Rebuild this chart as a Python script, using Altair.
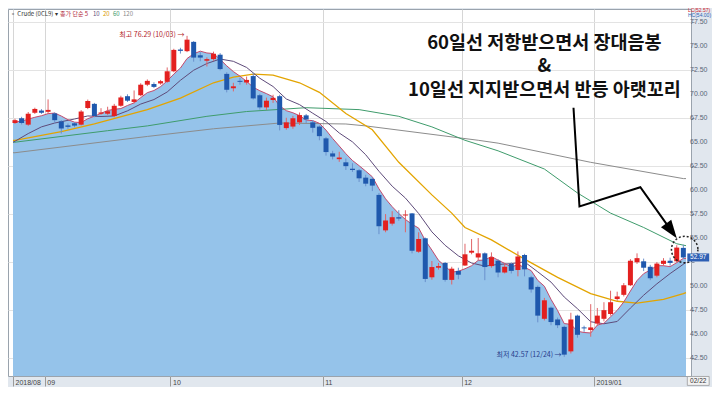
import altair as alt
import pandas as pd

# ---------------- candle data ----------------
opens = [67.00, 67.50, 66.83, 68.07, 68.30, 68.17, 68.00, 67.17, 66.75, 66.97,
         66.83, 68.57, 69.00, 67.97, 67.97, 67.73, 68.80, 69.80, 69.20, 69.90,
         71.00, 71.07, 71.13, 71.30, 72.40, 74.67, 74.50, 75.47, 74.07, 73.50,
         73.67, 74.13, 72.13, 70.63, 71.40, 71.23, 71.90, 69.90, 68.63, 69.40,
         69.80, 66.47, 66.63, 67.07, 67.80, 67.07, 66.63, 65.40, 63.83, 63.23,
         62.90, 62.23, 62.07, 61.30, 61.17, 59.50, 55.80, 56.50, 57.17, 57.35,
         57.57, 53.57, 54.97, 50.90, 51.90, 52.40, 50.63, 51.57, 52.13, 53.47,
         52.97, 53.40, 52.07, 52.63, 51.40, 52.30, 51.67, 53.23, 50.90, 49.90,
         46.57, 47.73, 46.50, 45.73, 43.17, 46.90, 45.67, 45.40, 46.07, 46.57,
         47.07, 48.63, 49.07, 50.07, 52.47, 52.57, 52.00, 51.07, 52.30, 52.63,
         52.57, 53.97]
closes = [67.30, 67.00, 67.97, 68.47, 68.07, 68.37, 67.30, 66.43, 66.60, 66.73,
          68.20, 69.30, 67.73, 68.10, 68.23, 68.80, 69.67, 69.33, 69.47, 71.00,
          71.40, 70.77, 71.37, 72.40, 74.63, 74.53, 75.70, 73.83, 73.83, 73.67,
          74.23, 72.63, 70.47, 70.83, 71.30, 71.50, 69.57, 68.63, 69.33, 69.63,
          66.80, 67.07, 67.50, 67.83, 67.37, 66.50, 65.63, 63.97, 63.50, 63.40,
          62.50, 62.10, 61.23, 60.67, 60.47, 56.23, 56.83, 57.17, 57.03, 57.45,
          53.67, 54.90, 50.73, 51.97, 52.07, 50.63, 51.80, 51.17, 53.30, 53.67,
          53.40, 51.97, 53.00, 51.40, 52.00, 51.57, 53.07, 51.73, 49.63, 46.90,
          48.50, 46.23, 45.90, 42.83, 46.50, 44.90, 45.57, 45.67, 46.90, 47.47,
          48.30, 48.90, 50.07, 52.63, 52.90, 51.90, 50.80, 52.33, 52.63, 52.40,
          54.00, 52.97]
highs = [67.45, 67.65, 68.15, 68.60, 68.45, 69.47, 68.10, 67.30, 66.95, 67.10,
         68.35, 69.45, 69.10, 68.55, 68.70, 69.00, 69.85, 70.00, 70.40, 71.15,
         71.55, 71.25, 71.50, 72.80, 74.75, 74.85, 76.10, 75.55, 74.40, 73.85,
         74.45, 74.30, 72.30, 71.20, 71.70, 71.85, 72.20, 70.05, 69.65, 69.95,
         69.95, 67.55, 67.75, 68.10, 67.95, 67.30, 66.75, 65.55, 64.10, 64.00,
         63.30, 62.80, 62.20, 61.60, 61.35, 59.70, 57.50, 57.80, 57.90, 57.90,
         57.60, 55.60, 55.05, 52.60, 52.40, 52.50, 52.00, 51.90, 54.40, 54.90,
         55.00, 53.50, 53.50, 52.80, 52.30, 52.45, 53.60, 53.35, 51.05, 50.05,
         48.75, 47.85, 46.70, 45.85, 47.20, 47.00, 45.85, 48.10, 47.70, 48.30,
         49.50, 49.40, 50.30, 52.80, 53.40, 52.85, 52.20, 52.50, 52.90, 52.95,
         54.25, 54.30]
lows = [66.90, 66.85, 66.70, 67.95, 67.95, 67.95, 67.05, 65.90, 66.40, 66.55,
        66.75, 68.45, 67.60, 67.85, 67.85, 67.60, 68.70, 69.20, 69.05, 69.80,
        70.85, 70.65, 71.00, 71.20, 72.30, 74.25, 74.40, 73.40, 73.45, 72.90,
        73.50, 72.50, 70.20, 70.30, 71.00, 71.00, 69.45, 68.40, 68.35, 69.10,
        66.23, 66.30, 66.40, 66.80, 67.00, 66.00, 65.20, 63.60, 63.20, 62.95,
        62.10, 61.90, 60.85, 60.40, 59.90, 55.40, 55.60, 56.30, 56.80, 55.60,
        53.40, 53.45, 50.40, 50.65, 51.70, 50.45, 50.15, 50.70, 52.10, 53.30,
        52.70, 50.60, 51.90, 50.90, 51.30, 51.30, 51.00, 51.00, 49.30, 46.20,
        46.40, 45.90, 45.60, 42.60, 42.95, 44.60, 45.20, 44.70, 45.85, 46.30,
        46.90, 48.45, 48.90, 50.00, 52.30, 51.55, 50.60, 50.90, 52.10, 52.10,
        52.45, 52.80]

# ---------------- moving-average lines ----------------
ma5_x = [-0.3, 0, 1, 2, 3, 4, 5, 6, 7, 8, 9, 10, 11, 12, 13, 14, 15, 16, 17, 18, 19,
         20, 21, 22, 23, 24, 25, 26, 27, 28, 29, 30, 31, 32, 33, 34, 35, 36, 37, 38, 39,
         40, 41, 42, 43, 44, 45, 46, 47, 48, 49, 50, 51, 52, 53, 54, 55, 56, 57, 58, 59,
         60, 61, 62, 63, 64, 65, 66, 67, 68, 69, 70, 71, 72, 73, 74, 75, 76, 77, 78, 79,
         80, 81, 82, 83, 84, 85, 86, 87, 88, 89, 90, 91, 92, 93, 94, 95, 96, 97, 98, 99,
         100, 101, 101.4]
ma5_y = [67.1, 67.1, 67.2, 67.4, 67.6, 67.76, 67.98, 68.04, 67.73, 67.35, 67.09, 67.05, 67.45,
         67.71, 68.01, 68.31, 68.43, 68.51, 68.83, 69.10, 69.65,
         70.17, 70.39, 70.80, 71.39, 72.11, 72.74, 73.73, 74.22, 74.50, 74.31,
         74.25, 73.64, 72.97, 72.37, 71.89, 71.35, 70.73, 70.37, 70.07, 69.73,
         68.79, 68.29, 68.07, 67.77, 67.31, 67.25, 66.97, 66.26, 65.39, 64.60,
         63.80, 63.09, 62.55, 61.98, 61.39, 60.14, 59.09, 58.27, 57.55, 56.94,
         56.43, 56.04, 54.75, 53.74, 52.67, 52.06, 51.44, 51.53, 51.79, 52.11,
         52.67, 52.70, 53.07, 52.69, 52.35, 51.99, 52.21, 51.95, 51.60, 50.58,
         49.97, 48.60, 47.43, 46.07, 45.99, 45.27, 45.14, 45.09, 45.91, 46.10,
         46.78, 47.45, 48.33, 49.47, 50.56, 51.28, 51.66, 52.11, 52.11, 52.01,
         52.43, 52.87, 52.87]

ma10_x = [-0.3, 0, 2, 4, 6, 9, 11, 13, 15, 17, 19, 21, 23, 25, 27, 29, 31, 33, 35, 37, 39,
          41, 43, 45, 47, 49, 51, 53, 55, 57, 59, 61, 63, 65, 67, 69, 71, 73, 75, 77, 79,
          81, 83, 85, 87, 89, 91, 93, 95, 97, 99, 101, 101.4]
ma10_y = [65.0, 65.1, 65.9, 66.6, 67.0, 67.42, 67.74, 67.68, 67.74, 68.27, 68.98, 69.45,
          70.24, 71.46, 72.51, 73.21, 73.68, 73.44, 72.80, 71.67, 70.81,
          69.51, 68.92, 68.02, 67.16, 65.96, 65.03, 63.69, 61.97, 60.41, 59.17,
          57.56, 55.64, 54.24, 53.14, 52.39, 52.07, 52.24, 52.33, 52.51, 51.47,
          50.40, 48.84, 47.62, 46.26, 46.05, 46.29, 47.69, 49.03, 50.22, 51.29, 52.26, 52.45]

ma20_x = [-0.3, 0, 7, 12, 20, 25, 30, 33, 36, 39, 43, 46, 50, 54, 58, 63, 66, 68, 72, 77,
          82, 87, 91, 94, 98, 101, 101.4]
ma20_y = [65.2, 65.2, 66.1, 66.9, 68.4, 69.6, 71.2, 71.8, 72.1, 72.0, 71.2, 70.2, 68.0,
          66.3, 62.9, 59.5, 57.6, 56.1, 54.8, 52.8, 50.9, 49.2, 48.4, 48.2, 48.6, 49.2, 49.3]

ma60_x = [-0.3, 0, 14, 20, 29, 35, 44, 52, 58, 63, 68, 73, 80, 85, 90, 95, 100, 101.4]
ma60_y = [65.0, 65.0, 66.2, 66.7, 67.7, 68.2, 68.6, 68.4, 67.7, 66.6, 65.2, 64.1, 62.2,
          59.7, 57.6, 56.1, 54.4, 54.2]

ma120_x = [-0.3, 0, 20, 30, 40, 50, 53, 70, 73, 87, 101, 101.4]
ma120_y = [63.9, 63.9, 65.6, 66.4, 67.0, 66.9, 66.7, 65.2, 64.9, 62.9, 61.2, 61.2]

# ---------------- axes ----------------
y_ticks = [42.5, 45.0, 47.5, 50.0, 52.5, 55.0, 57.5, 60.0, 62.5, 65.0, 67.5, 70.0, 72.5, 75.0, 77.5]
y_tick_labels = ["42.50", "45.00", "47.50", "50.00", "", "55.00", "57.50", "60.00", "62.50",
                 "65.00", "67.50", "70.00", "72.50", "75.00", "77.50"]   # 52.50 sits under the price box
month_pos = [-0.3, 4.5, 23.5, 46.5, 67.5, 87.5]
month_lab = ["2018/08", "09", "10", "11", "12", "2019/01"]

X_DOM = [-0.3, 101.4]
Y_DOM = [40.6, 78.9]

# ---------------- annotations ----------------
note_lines = ["60일선 저항받으면서 장대음봉", "&", "10일선 지지받으면서 반등 아랫꼬리"]
note_pos = (80.0, 75.4)      # first line; the others follow by line height

arrow_x = [84.4, 85.3, 94.5, 99.15]
arrow_y = [68.6, 58.3, 60.3, 55.8]
arrow_head = (99.2, 55.75)

circle_pt = (101.2, 53.8)

hi_label = ("최고 76.29 (10/03) →", 25.6, 76.15)
lo_label = ("최저 42.57 (12/24) →", 82.6, 42.75)

last_price = "52.97"
last_date = "02/22"

header_t = ["▫ Crude (0CL9) ▾", "종가 단순 5", "10", "20", "60", "120"]
header_px = [2, 52, 85, 95, 105, 115]
header_col = ["#333333", "#b22a3a", "#5e4b7a", "#d99a00", "#3a9a6a", "#8a8a8a"]

# ---------------- build ----------------
xs = alt.Scale(domain=X_DOM, nice=False, zero=False)
ys = alt.Scale(domain=Y_DOM, nice=False, zero=False)


def X(f):
    return alt.X(f, type="quantitative", scale=xs, title=None)


def Y(f):
    return alt.Y(f, type="quantitative", scale=ys, title=None)


label_expr = " : ".join(
    f"abs(datum.value - ({p})) < 0.01 ? '{l}'" for p, l in zip(month_pos, month_lab)
) + " : ''"

x_axis = alt.Axis(values=month_pos, labelExpr=label_expr, orient="bottom", grid=True,
                  gridColor="#d6d6d6", gridWidth=1, tickSize=10, tickColor="#9a9a9a",
                  labelAlign="left", labelBaseline="top", labelPadding=-8, labelOffset=2,
                  labelFontSize=7, labelColor="#444444", labelFont="Liberation Sans",
                  domain=False, labelFlush=False, labelOverlap=False, title=None)
y_axis = alt.Axis(values=y_ticks, labels=False, orient="right", grid=True,
                  gridColor="#e3e3e3", gridWidth=1, tickSize=3, tickColor="#8a95a5",
                  domain=False, title=None)

ma5_df = pd.DataFrame({"x": ma5_x, "y": ma5_y})
area = alt.Chart(ma5_df).mark_area(color="#95c3ea", opacity=1).encode(
    x=alt.X("x:Q", scale=xs, axis=x_axis, title=None),
    y=alt.Y("y:Q", scale=ys, axis=y_axis, title=None),
    y2=alt.datum(Y_DOM[0]),
)

# price-axis labels, placed through the y scale just right of the plot
ylab_df = pd.DataFrame({"y": y_ticks, "t": y_tick_labels, "x": [X_DOM[1]] * len(y_ticks)})
ylabels = alt.Chart(ylab_df).mark_text(font="Liberation Sans", fontSize=7, color="#5a6678",
                                       align="left", baseline="middle", dx=4).encode(
    x=X("x"), y=Y("y"), text="t:N")


def ma_line(xv, yv, color, w):
    df = pd.DataFrame({"x": xv, "y": yv})
    return alt.Chart(df).mark_line(color=color, strokeWidth=w).encode(x=X("x"), y=Y("y"))


l120 = ma_line(ma120_x, ma120_y, "#8c8c8c", 1)
l60 = ma_line(ma60_x, ma60_y, "#3f9c6c", 1)
l20 = ma_line(ma20_x, ma20_y, "#e3a400", 1.3)
l10 = ma_line(ma10_x, ma10_y, "#5e4b7a", 1)
l5 = ma_line(ma5_x, ma5_y, "#c44a6c", 1)

candles = pd.DataFrame({"i": list(range(len(opens))), "o": opens, "c": closes,
                        "h": highs, "l": lows})
up = "datum.c >= datum.o"
wicks = alt.Chart(candles).mark_rule(strokeWidth=1).encode(
    x=X("i"), y=Y("l"), y2="h:Q",
    color=alt.condition(up, alt.value("#e06468"), alt.value("#6a90cc")),
)
bodies = alt.Chart(candles).mark_bar(size=5).encode(
    x=X("i"), y=Y("o"), y2="c:Q",
    color=alt.condition(up, alt.value("#e3201f"), alt.value("#1f58ad")),
)

# annotation text (one three-line text block)
notes = pd.DataFrame({"x": [note_pos[0]], "y": [note_pos[1]]})
note_txt = alt.Chart(notes).mark_text(text=note_lines, font="Noto Sans CJK KR", fontSize=18.5,
                                      fontWeight="bold", lineHeight=23.5, color="#111111",
                                      align="center", baseline="middle").encode(
    x=X("x"), y=Y("y"))

arrow_df = pd.DataFrame({"x": arrow_x, "y": arrow_y, "k": list(range(len(arrow_x)))})
arrow_line = alt.Chart(arrow_df).mark_line(color="#000000", strokeWidth=2).encode(
    x=X("x"), y=Y("y"), order="k:Q")
head_df = pd.DataFrame({"x": [arrow_head[0]], "y": [arrow_head[1]]})
arrow_tip = alt.Chart(head_df).mark_point(shape="M0,-1L0.7,1L-0.7,1Z", filled=True,
                                          color="#000000", size=330, angle=144, opacity=1).encode(
    x=X("x"), y=Y("y"))

circ_df = pd.DataFrame({"x": [circle_pt[0]], "y": [circle_pt[1]]})
circle = alt.Chart(circ_df).mark_point(shape="circle", filled=False, size=700, color="#222222",
                                       strokeWidth=1.5, strokeDash=[2, 2], opacity=1).encode(
    x=X("x"), y=Y("y"))

hl_df = pd.DataFrame({"t": [hi_label[0], lo_label[0]], "x": [hi_label[1], lo_label[1]],
                      "y": [hi_label[2], lo_label[2]], "col": ["#b3262b", "#283c8c"]})
hl_txt = alt.Chart(hl_df).mark_text(font="Noto Sans CJK KR", fontSize=7, align="right",
                                    baseline="middle").encode(
    x=X("x"), y=Y("y"), text="t:N", color=alt.Color("col:N", scale=None))

# price box on the right axis
last_c = closes[-1]
pbox_df = pd.DataFrame({"x": [101.6], "x2": [104.9], "y": [last_c - 0.42], "y2": [last_c + 0.42],
                        "tx": [103.25], "t": [last_price], "ty": [last_c]})
pbox = alt.Chart(pbox_df).mark_rect(color="#2d5fb4").encode(
    x=X("x"), x2="x2:Q", y=Y("y"), y2="y2:Q")
pbox_txt = alt.Chart(pbox_df).mark_text(color="white", fontSize=6.5, font="Liberation Sans",
                                        align="center", baseline="middle").encode(
    x=X("tx"), y=Y("ty"), text="t:N")

# date box at the bottom right
dbox_df = pd.DataFrame({"x": [101.6], "x2": [104.9], "y": [40.55], "y2": [39.62],
                        "tx": [103.25], "ty": [40.08], "t": [last_date]})
dbox = alt.Chart(dbox_df).mark_rect(fill="#f3f3f3", stroke="#9a9a9a", strokeWidth=0.8).encode(
    x=X("x"), x2="x2:Q", y=Y("y"), y2="y2:Q")
dbox_txt = alt.Chart(dbox_df).mark_text(color="#333333", fontSize=6.5, font="Liberation Sans",
                                        align="center", baseline="middle").encode(
    x=X("tx"), y=Y("ty"), text="t:N")

# HC / LC tags at top of price axis
tag_df = pd.DataFrame({"t": ["LC(52.57)", "HC(54.00)"], "x": [101.7, 101.7], "y": [78.78, 78.28],
                       "col": ["#d2232a", "#2d5fb4"]})
tags = alt.Chart(tag_df).mark_text(font="Liberation Sans", fontSize=5, align="left",
                                   baseline="middle").encode(
    x=X("x"), y=Y("y"), text="t:N", color=alt.Color("col:N", scale=None))

# header legend inside plot (top-left)
head_df2 = pd.DataFrame({"t": header_t, "px": header_px, "col": header_col})
header = alt.Chart(head_df2).mark_text(font="Noto Sans CJK KR", fontSize=6, align="left",
                                       baseline="middle").encode(
    x=alt.X("px:Q", scale=None), y=alt.value(5), text="t:N",
    color=alt.Color("col:N", scale=None))

chart = alt.layer(
    area, ylabels, l120, l60, l20, l10, l5, wicks, bodies,
    arrow_line, arrow_tip, circle, note_txt, hl_txt,
    pbox, pbox_txt, dbox, dbox_txt, tags, header,
).properties(
    width=704, height=379, padding=0,
    autosize=alt.AutoSizeParams(type="fit", contains="padding"),
).configure(background="#e1e7ee").configure_view(fill="white", stroke="#9aa3ad", strokeWidth=1)

chart.save("out.html", embed_options={"renderer": "svg", "actions": False})
